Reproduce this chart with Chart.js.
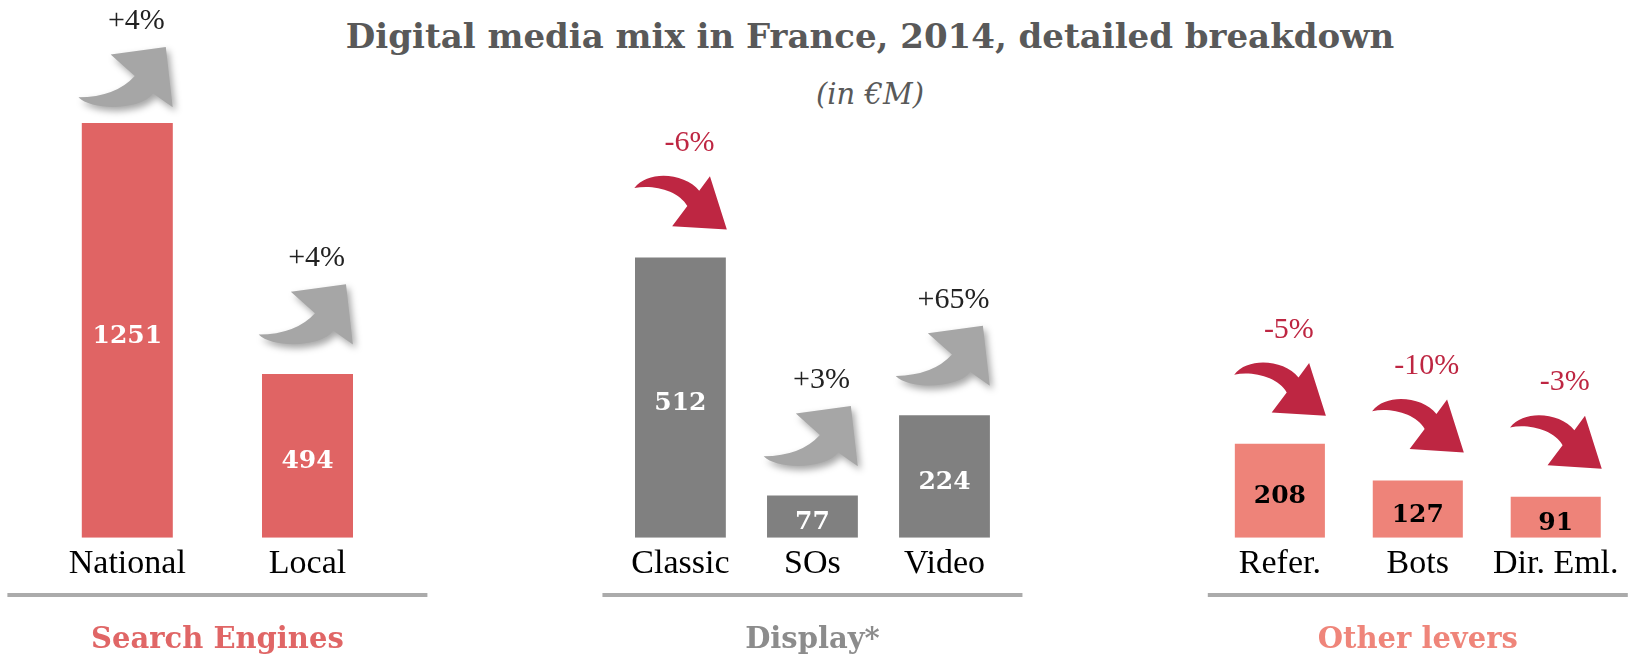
<!DOCTYPE html>
<html>
<head>
<meta charset="utf-8">
<script src="https://cdn.jsdelivr.net/npm/chart.js@4/dist/chart.umd.min.js"></script>
<style>
  html, body { margin: 0; padding: 0; background: #fff; }
  #wrap { position: relative; width: 1629px; height: 655px; overflow: hidden; }
  #wrap canvas { position: absolute; left: 0; top: 0; }
  .head { position: absolute; left: 870px; transform: translateX(-50%); white-space: nowrap; color: #595959; }
  #title { top: 16px; line-height: 40px; font: bold 34px "DejaVu Serif", serif; }
  #subtitle { top: 77px; line-height: 36px; font: italic 29px "DejaVu Serif", serif; }
</style>
</head>
<body>
<div id="wrap">
  <div id="title" class="head"></div>
  <div id="subtitle" class="head"></div>
  <canvas id="search" width="1629" height="655"></canvas>
  <canvas id="display" width="1629" height="655"></canvas>
  <canvas id="other" width="1629" height="655"></canvas>
</div>
<script>
// Headline texts
const titleText = 'Digital media mix in France, 2014, detailed breakdown';
const subtitleText = '(in €M)';

// Search engines, €M and yearly change in %
const searchCategories = ['National', 'Local'];
const searchValues = [1251, 494];
const searchChanges = [4, 4];

// Display, €M and yearly change in %
const displayCategories = ['Classic', 'SOs', 'Video'];
const displayValues = [512, 77, 224];
const displayChanges = [-6, 3, 65];

// Other levers, €M and yearly change in %
const otherCategories = ['Refer.', 'Bots', 'Dir. Eml.'];
const otherValues = [208, 127, 91];
const otherChanges = [-5, -10, -3];

const groupTitles = ['Search Engines', 'Display*', 'Other levers'];

document.getElementById('title').textContent = titleText;
document.getElementById('subtitle').textContent = subtitleText;

const CANVAS_W = 1629;
const RISE_COLOR = '#a6a6a6';
const FALL_COLOR = '#be2642';
const LABEL_MIN_Y = 21;   // keep change labels inside the canvas

function fmtChange(v) {
  return (v > 0 ? '+' : '') + v + '%';
}

// Curved gray arrow pointing up-right; (x0, y0) = left edge / bottom of the arrow box, w = box width
function drawRiseArrow(ctx, x0, y0, w) {
  const p = (u, v) => [x0 + u * w, y0 + v * w];
  ctx.save();
  ctx.shadowColor = 'rgba(0,0,0,0.35)';
  ctx.shadowBlur = 7;
  ctx.shadowOffsetX = 3;
  ctx.shadowOffsetY = 4;
  ctx.fillStyle = RISE_COLOR;
  ctx.beginPath();
  ctx.moveTo(...p(-0.037, -0.124));
  ctx.quadraticCurveTo(...p(0.375, -0.129), ...p(0.582, -0.359));
  ctx.lineTo(...p(0.317, -0.594));
  ctx.lineTo(...p(0.923, -0.677));
  ctx.lineTo(...p(0.999, -0.014));
  ctx.lineTo(...p(0.784, -0.166));
  ctx.bezierCurveTo(...p(0.642, 0.023), ...p(0.107, 0.023), ...p(-0.037, -0.124));
  ctx.closePath();
  ctx.fill();
  ctx.restore();
}

// Curved crimson arrow pointing down-right
function drawFallArrow(ctx, x0, y0, w) {
  const p = (u, v) => [x0 + u * w, y0 + v * w];
  ctx.save();
  ctx.fillStyle = FALL_COLOR;
  ctx.beginPath();
  ctx.moveTo(...p(-0.007, -0.457));
  ctx.bezierCurveTo(...p(0.15, -0.66), ...p(0.55, -0.62), ...p(0.707, -0.427));
  ctx.lineTo(...p(0.825, -0.586));
  ctx.lineTo(...p(1.011, 0));
  ctx.lineTo(...p(0.409, -0.037));
  ctx.lineTo(...p(0.576, -0.26));
  ctx.bezierCurveTo(...p(0.48, -0.43), ...p(0.2, -0.5), ...p(-0.007, -0.457));
  ctx.closePath();
  ctx.fill();
  ctx.restore();
}

// Value labels inside the bars, change arrows above them, divider under the axis
function groupDecor(changes, cfg) {
  return {
    id: 'groupDecor',
    afterDatasetsDraw(chart) {
      const ctx = chart.ctx;
      const meta = chart.getDatasetMeta(0);
      const values = chart.data.datasets[0].data;
      meta.data.forEach((bar, i) => {
        const w = bar.width;
        const left = bar.x - w / 2;
        const top = Math.min(bar.y, bar.base);
        const bottom = Math.max(bar.y, bar.base);

        ctx.save();
        ctx.font = 'bold 25px "DejaVu Serif"';
        ctx.fillStyle = cfg.valueColor;
        ctx.textAlign = 'center';
        ctx.textBaseline = 'middle';
        ctx.fillText(String(values[i]), bar.x, (top + bottom) / 2 + 6);
        ctx.restore();

        const change = changes[i];
        const rising = change >= 0;
        // label sits above the arrow, which sits above the bar
        const headRoom = rising ? 0.677 * w + 26 : 0.6 * w + 32;
        let base = top - 28;
        if (base - headRoom < LABEL_MIN_Y) base = LABEL_MIN_Y + headRoom;
        if (rising) drawRiseArrow(ctx, left, base, w);
        else drawFallArrow(ctx, left, base, w);

        ctx.save();
        ctx.font = '30px "Liberation Serif"';
        ctx.fillStyle = rising ? '#222222' : FALL_COLOR;
        ctx.textAlign = 'center';
        ctx.textBaseline = 'middle';
        ctx.fillText(fmtChange(change), bar.x + 0.1 * w, base - headRoom);
        ctx.restore();
      });
    },
    afterDraw(chart) {
      const ctx = chart.ctx;
      const area = chart.chartArea;
      const cx = (area.left + area.right) / 2;
      ctx.save();
      ctx.fillStyle = '#ababab';
      ctx.fillRect(cx - 210, 593, 420, 4);
      ctx.restore();
    }
  };
}

function buildGroup(canvasId, categories, values, changes, cfg) {
  return new Chart(document.getElementById(canvasId), {
    type: 'bar',
    data: {
      labels: categories,
      datasets: [{
        data: values,
        backgroundColor: cfg.barColor,
        borderWidth: 0,
        barPercentage: cfg.barPct,
        categoryPercentage: 1
      }]
    },
    options: {
      responsive: false,
      animation: false,
      devicePixelRatio: 1,
      layout: { padding: { left: cfg.left, right: CANVAS_W - cfg.right, top: 100, bottom: 0 } },
      plugins: {
        legend: { display: false },
        tooltip: { enabled: false },
        title: { display: false }
      },
      scales: {
        x: {
          grid: { display: false, drawTicks: false },
          border: { display: false },
          ticks: {
            color: '#000000',
            font: { family: 'Liberation Serif', size: 34 },
            padding: 6,
            maxRotation: 0,
            autoSkip: false
          },
          title: {
            display: true,
            text: cfg.groupTitle,
            color: cfg.groupColor,
            font: { family: 'DejaVu Serif', size: 29, weight: 'bold', lineHeight: 1 },
            padding: { top: 0, bottom: 0 }
          },
          afterFit(scale) { scale.height = 117.3; }
        },
        y: { display: false, min: 0, max: cfg.yMax }
      }
    },
    plugins: [groupDecor(changes, cfg)]
  });
}

buildGroup('search', searchCategories, searchValues, searchChanges, {
  left: 37.2, right: 397.6, barPct: 0.505, yMax: 1320,
  barColor: '#e06464', valueColor: '#ffffff',
  groupTitle: groupTitles[0], groupColor: '#e06666'
});

buildGroup('display', displayCategories, displayValues, displayChanges, {
  left: 614.4, right: 1010.5, barPct: 0.688, yMax: 800,
  barColor: '#808080', valueColor: '#ffffff',
  groupTitle: groupTitles[1], groupColor: '#8c8c8c'
});

buildGroup('other', otherCategories, otherValues, otherChanges, {
  left: 1210.9, right: 1624.7, barPct: 0.653, yMax: 970,
  barColor: '#ee8379', valueColor: '#000000',
  groupTitle: groupTitles[2], groupColor: '#ef857a'
});
</script>
</body>
</html>
